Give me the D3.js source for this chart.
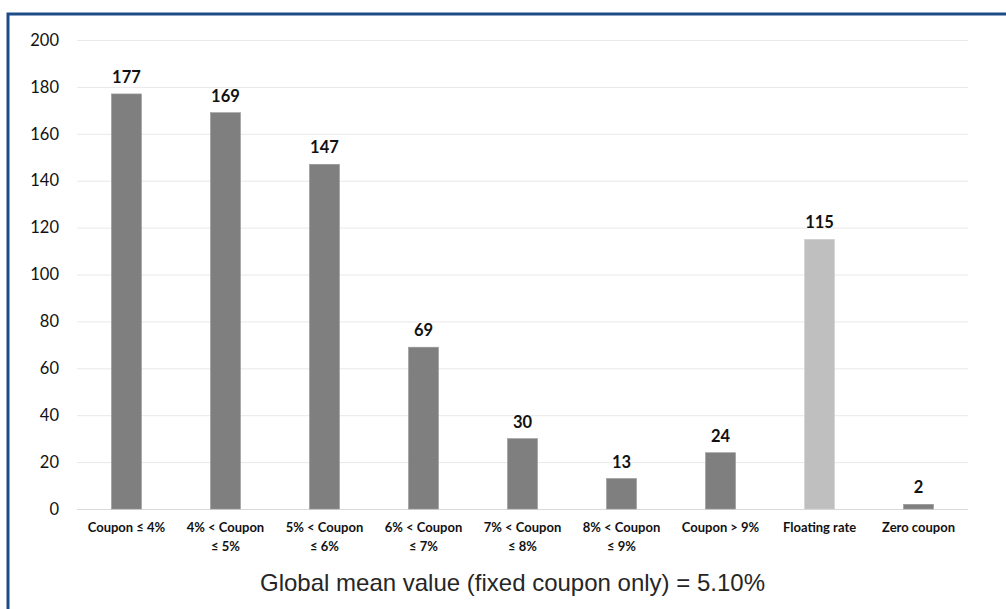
<!DOCTYPE html>
<html>
<head>
<meta charset="utf-8">
<script src="https://cdn.jsdelivr.net/npm/d3@7"></script>
<style>
  html, body { margin: 0; padding: 0; background: #fff; }
  svg { display: block; }
</style>
</head>
<body>
<svg id="chart" width="1006" height="609"></svg>
<script>
// Bond counts by coupon bucket
const categories = [
  ["Coupon ≤ 4%"],
  ["4% < Coupon", "≤ 5%"],
  ["5% < Coupon", "≤ 6%"],
  ["6% < Coupon", "≤ 7%"],
  ["7% < Coupon", "≤ 8%"],
  ["8% < Coupon", "≤ 9%"],
  ["Coupon > 9%"],
  ["Floating rate"],
  ["Zero coupon"]
];
const values = [177, 169, 147, 69, 30, 13, 24, 115, 2];
const highlighted = [false, false, false, false, false, false, false, true, false];
const yTicks = [0, 20, 40, 60, 80, 100, 120, 140, 160, 180, 200];
const footnote = "Global mean value (fixed coupon only) = 5.10%";

const svg = d3.select("#chart");
const W = 1006, H = 609;
const plot = { left: 77, right: 968, top: 40, bottom: 509 };
const labelFont = "Lato, 'Open Sans', sans-serif";

// Frame around the figure
svg.append("rect")
  .attr("x", 8).attr("y", 14)
  .attr("width", W + 20).attr("height", H + 20)
  .attr("fill", "none")
  .attr("stroke", "#1c4d86")
  .attr("stroke-width", 3);

const x = d3.scaleBand()
  .domain(d3.range(categories.length))
  .range([plot.left, plot.right])
  .paddingInner(0.697)
  .paddingOuter(0.348);

const y = d3.scaleLinear()
  .domain([0, 200])
  .range([plot.bottom, plot.top]);

// Horizontal gridlines and y-axis labels
const yAxis = d3.axisLeft(y)
  .tickValues(yTicks)
  .tickSize(-(plot.right - plot.left))
  .tickPadding(18)
  .tickFormat(d3.format("d"));

const gy = svg.append("g")
  .attr("transform", `translate(${plot.left},0)`)
  .call(yAxis);
gy.select(".domain").remove();
gy.selectAll(".tick line")
  .attr("stroke", d => d === 0 ? "#d9d9d9" : "#e8e8e8")
  .attr("stroke-width", 1);
gy.selectAll(".tick text")
  .attr("font-family", labelFont)
  .attr("font-size", 16.5)
  .attr("fill", "#111");

// Bars
const cx = i => x(i) + x.bandwidth() / 2;
svg.append("g").selectAll("rect")
  .data(values)
  .join("rect")
  .attr("x", (d, i) => x(i))
  .attr("y", d => y(d))
  .attr("width", x.bandwidth())
  .attr("height", d => y(0) - y(d))
  .attr("fill", (d, i) => highlighted[i] ? "#bfbfbf" : "#7f7f7f")
  .attr("stroke", (d, i) => highlighted[i] ? "#cfcfcf" : "#999")
  .attr("stroke-width", 0.6);

// Value labels
svg.append("g").selectAll("text")
  .data(values)
  .join("text")
  .attr("x", (d, i) => cx(i))
  .attr("y", d => y(d) - 11)
  .attr("text-anchor", "middle")
  .attr("font-family", labelFont)
  .attr("font-weight", "bold")
  .attr("font-size", 16.5)
  .attr("fill", "#111")
  .text(d => d);

// Category labels (wrapped onto two lines where needed)
const catG = svg.append("g");
categories.forEach((lines, i) => {
  const t = catG.append("text")
    .attr("x", cx(i))
    .attr("y", 532)
    .attr("text-anchor", "middle")
    .attr("font-family", labelFont)
    .attr("font-weight", "bold")
    .attr("font-size", 13)
    .attr("fill", "#111");
  lines.forEach((ln, k) => {
    t.append("tspan")
      .attr("x", cx(i))
      .attr("dy", k === 0 ? 0 : 19)
      .text(ln);
  });
});

// Footnote
svg.append("text")
  .attr("x", (plot.left + plot.right) / 2 - 10)
  .attr("y", 591)
  .attr("text-anchor", "middle")
  .attr("font-family", "'Liberation Sans', Arial, sans-serif")
  .attr("font-size", 24)
  .attr("fill", "#262626")
  .text(footnote);
</script>
</body>
</html>
